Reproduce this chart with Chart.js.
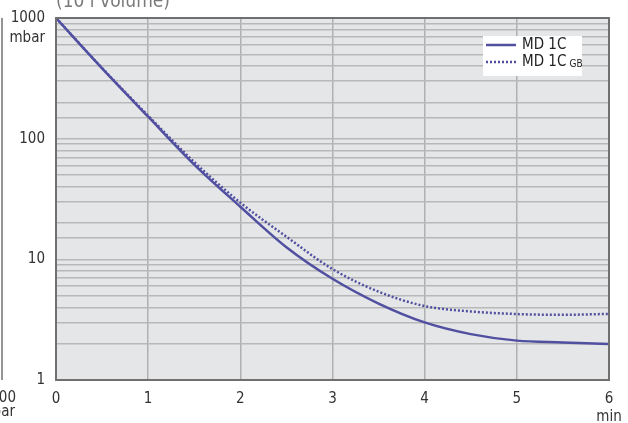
<!DOCTYPE html>
<html>
<head>
<meta charset="utf-8">
<script src="https://cdn.jsdelivr.net/npm/chart.js@4/dist/chart.umd.min.js"></script>
<style>
  html, body { margin: 0; padding: 0; background: #fff; }
  #wrap { position: relative; width: 628px; height: 423px; }
</style>
</head>
<body>
<div id="wrap"><canvas id="pump-chart" width="628" height="423"></canvas></div>
<script>
  // pump-down curves, pressure in mbar over time in minutes
  const minutes = [0, 0.5, 1, 1.5, 2, 2.5, 3, 3.5, 4, 4.5, 5, 5.5, 6];
  const md1c = [1000, 383, 152, 61, 27.3, 12.6, 6.9, 4.3, 3.0, 2.4, 2.12, 2.05, 1.99];
  const md1cGb = [1000, 385, 155, 64, 29.5, 15.4, 8.3, 5.4, 4.1, 3.7, 3.52, 3.47, 3.53];
  const yLabels = [1, 10, 100, 1000];
  const seriesNames = ['MD 1C', 'MD 1C'];

  const lineColor = '#514fa0';
  const font = '"DejaVu Sans Condensed", "Liberation Sans Narrow", sans-serif';

  const toPoints = (ys) => minutes.map((m, i) => ({ x: m, y: ys[i] }));

  const frame = {
    id: 'frame',
    beforeDraw(chart) {
      const { ctx, chartArea: a } = chart;
      ctx.save();
      ctx.fillStyle = '#e5e6e8';
      ctx.fillRect(a.left, a.top, a.right - a.left, a.bottom - a.top);
      ctx.restore();
    },
    afterDraw(chart) {
      const { ctx, chartArea: a } = chart;
      const y = chart.scales.y;
      ctx.save();
      // plot border
      ctx.strokeStyle = '#707070';
      ctx.lineWidth = 2;
      ctx.strokeRect(a.left, a.top, a.right - a.left, a.bottom - a.top);

      // unit under the top y label
      ctx.fillStyle = '#333';
      ctx.font = '15px ' + font;
      ctx.textAlign = 'right';
      ctx.textBaseline = 'middle';
      ctx.fillText('mbar', a.left - 11, y.getPixelForValue(1000) + 20);

      // title, cut by the top edge
      ctx.fillStyle = '#7a7a7a';
      ctx.font = '19px ' + font;
      ctx.textAlign = 'left';
      ctx.textBaseline = 'alphabetic';
      ctx.fillText('(10 l volume)', a.left, 7);

      // remains of the neighbouring chart at the left edge
      ctx.strokeStyle = '#707070';
      ctx.lineWidth = 1.5;
      ctx.beginPath();
      ctx.moveTo(2, a.top);
      ctx.lineTo(2, a.bottom);
      ctx.stroke();
      ctx.fillStyle = '#333';
      ctx.font = '15px ' + font;
      ctx.textAlign = 'right';
      ctx.textBaseline = 'middle';
      ctx.fillText('1000', 16, 398);
      ctx.fillText('mbar', 15, 412);

      // legend
      const lx = 483, ly = 36;
      ctx.fillStyle = '#fff';
      ctx.fillRect(lx, ly, 99, 40);
      chart.data.datasets.forEach((ds, i) => {
        const yy = ly + 9 + i * 17;
        ctx.strokeStyle = ds.borderColor;
        ctx.lineWidth = ds.borderWidth;
        ctx.setLineDash(ds.borderDash || []);
        ctx.beginPath();
        ctx.moveTo(lx + 3, yy);
        ctx.lineTo(lx + 33, yy);
        ctx.stroke();
        ctx.setLineDash([]);
        ctx.fillStyle = '#222';
        ctx.font = '15px ' + font;
        ctx.textAlign = 'left';
        ctx.textBaseline = 'middle';
        ctx.fillText(seriesNames[i], lx + 39, yy);
        if (i === 1) {
          const w = ctx.measureText(seriesNames[i] + ' ').width;
          ctx.font = '10px ' + font;
          ctx.fillText('GB', lx + 39 + w - 1, yy + 2);
        }
      });
      ctx.restore();
    }
  };

  new Chart(document.getElementById('pump-chart'), {
    type: 'line',
    data: {
      datasets: [{
        label: seriesNames[0],
        data: toPoints(md1c),
        borderColor: lineColor,
        borderWidth: 2.5,
        pointRadius: 0,
        fill: false,
        cubicInterpolationMode: 'monotone'
      }, {
        label: seriesNames[1] + ' GB',
        data: toPoints(md1cGb),
        borderColor: lineColor,
        borderWidth: 2.5,
        borderDash: [2, 2],
        pointRadius: 0,
        fill: false,
        cubicInterpolationMode: 'monotone'
      }]
    },
    options: {
      responsive: false,
      animation: false,
      layout: { padding: { top: 18, right: 19, left: 0, bottom: 0 } },
      scales: {
        x: {
          type: 'linear',
          min: 0,
          max: 6,
          border: { display: false },
          grid: { color: '#b0b0b0', lineWidth: 1.5, drawTicks: false },
          ticks: {
            stepSize: 1,
            padding: 10,
            color: '#333',
            font: { family: font, size: 15 },
            maxRotation: 0,
            callback: (v) => v === 6 ? ['6', 'min'] : String(v)
          },
          afterFit: (s) => { s.height = 43; s.paddingLeft = 0; s.paddingRight = 0; }
        },
        y: {
          type: 'logarithmic',
          min: 1,
          max: 1000,
          border: { display: false },
          grid: { color: '#b8b8b8', lineWidth: 1.5, drawTicks: false },
          ticks: {
            autoSkip: false,
            padding: 11,
            color: '#333',
            font: { family: font, size: 15 },
            callback: (v) => yLabels.includes(v) ? String(v) : ''
          },
          afterFit: (s) => { s.width = 56; s.paddingTop = 0; s.paddingBottom = 0; }
        }
      },
      plugins: {
        legend: { display: false },
        tooltip: { enabled: false }
      }
    },
    plugins: [frame]
  });
</script>
</body>
</html>
